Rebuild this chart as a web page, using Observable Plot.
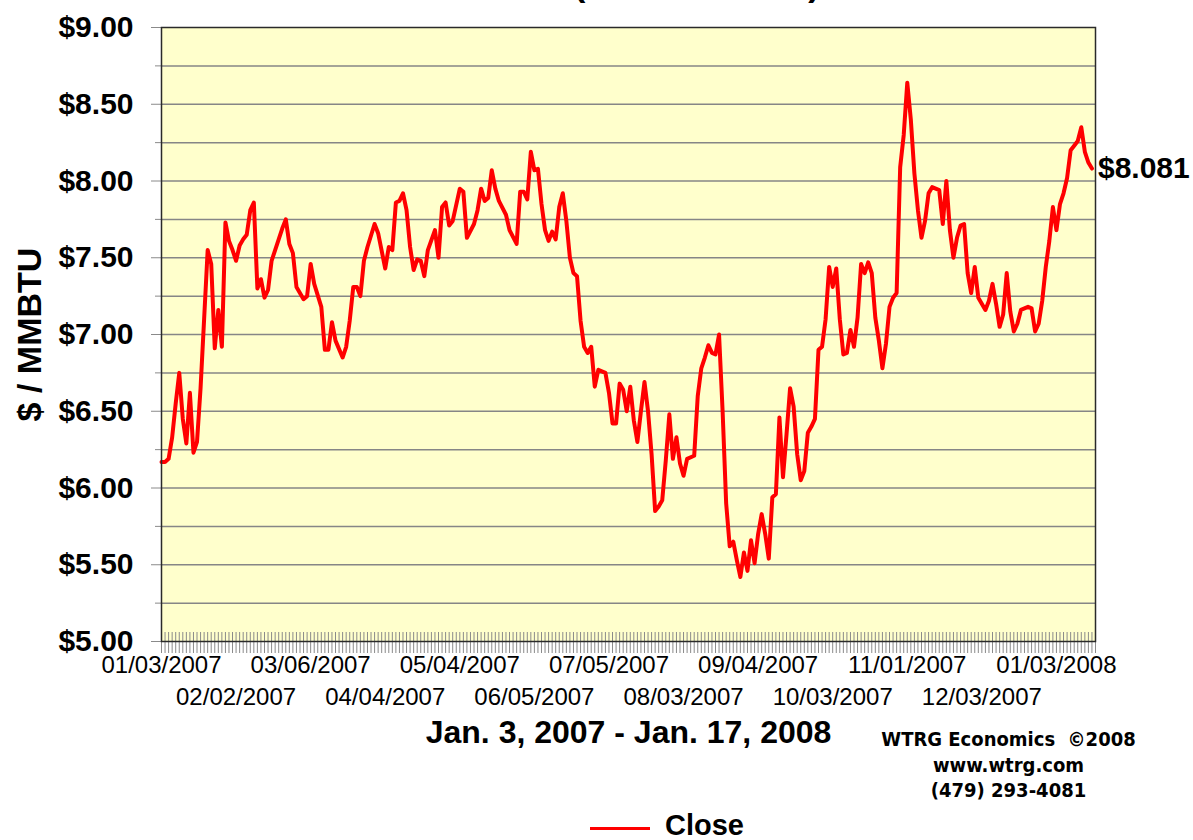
<!DOCTYPE html>
<html>
<head>
<meta charset="utf-8">
<script src="https://cdn.jsdelivr.net/npm/d3@7"></script>
<script src="https://cdn.jsdelivr.net/npm/@observablehq/plot@0.6"></script>
<style>
  html, body { margin: 0; padding: 0; background: #ffffff; overflow: hidden; }
  #wrap { position: relative; width: 1193px; height: 840px; overflow: hidden; font-family: "Liberation Sans", Arial, sans-serif; }
  #chart { position: absolute; left: 0; top: 0; }
  #title { position: absolute; top: -33px; left: 0; width: 1193px; height: 40px; font: bold 34px/34px "Liberation Sans", Arial, sans-serif; color: #000; white-space: nowrap; }
  #title .pre { position: absolute; right: 632px; top: 0; }
  #title .par { position: absolute; left: 574px; top: 0; }
  #legend { position: absolute; left: 590px; top: 811px; height: 30px; white-space: nowrap; }
  #legend .sw { position: absolute; left: 0; top: 16px; width: 60px; height: 3px; background: #ff0000; }
  #legend .lb { position: absolute; left: 75px; top: 0; font: bold 29px/29px "Liberation Sans", Arial, sans-serif; color: #000; }
</style>
</head>
<body>
<div id="wrap">
  <div id="chart"></div>
  <div id="title"><span class="pre">Natural Gas Futures</span><span class="par">(NYMEX Close)</span></div>
  <div id="legend"><div class="sw"></div><div class="lb">Close</div></div>
</div>
<script>
// Trading-day index (0 = 01/03/2007, 262 = 01/17/2008)
const dayIdx = [
  0,1,2,3,4,5,6,7,8,9,10,11,12,13,14,15,16,17,18,19,20,21,22,23,24,25,26,27,28,29,30,31,32,33,34,35,36,37,38,
  40,41,42,43,45,46,47,48,49,51,52,53,54,55,56,57,58,60,61,63,64,65,66,67,68,69,70,71,72,73,74,75,77,78,79,80,
  81,82,84,85,86,88,89,90,91,92,93,94,95,97,98,100,101,102,103,104,105,106,107,108,109,110,111,112,113,114,115,
  116,117,118,119,120,121,122,123,125,126,127,128,129,130,131,132,133,134,135,136,137,138,139,140,141,142,143,
  144,145,146,147,148,150,151,152,153,154,155,156,157,158,159,160,161,162,163,164,165,166,167,168,169,170,171,
  172,173,174,175,176,177,178,179,180,181,182,183,184,185,186,187,188,189,190,191,192,193,194,195,196,197,198,
  199,200,201,202,203,204,205,206,207,208,209,210,211,212,213,214,215,216,217,219,220,221,222,223,224,225,226,
  227,228,229,230,232,233,234,235,236,237,238,239,240,241,242,244,245,246,247,248,249,250,251,252,253,254,255,
  256,257,258,259,260,261,262
];
// Daily close, $ / MMBTU
const closes = [
  6.17,6.17,6.19,6.33,6.55,6.75,6.45,6.29,6.62,6.23,6.30,6.65,7.10,7.55,7.46,6.91,7.16,6.92,7.73,7.61,7.55,7.48,7.58,7.62,7.65,7.81,7.86,7.30,7.36,7.24,7.29,7.48,7.55,7.62,7.69,7.75,7.59,7.53,7.31,
  7.23,7.25,7.46,7.33,7.18,6.90,6.90,7.08,6.96,6.85,6.92,7.09,7.31,7.31,7.25,7.48,7.57,7.72,7.66,7.43,7.57,7.55,7.86,7.87,7.92,7.81,7.57,7.42,7.49,7.48,7.38,7.55,7.68,7.50,7.83,7.86,
  7.71,7.74,7.95,7.93,7.63,7.72,7.81,7.95,7.87,7.89,8.07,7.95,7.87,7.78,7.68,7.59,7.93,7.93,7.88,8.19,8.07,8.08,7.85,7.68,7.61,7.67,7.62,7.83,7.92,7.74,7.50,
  7.40,7.38,7.09,6.92,6.88,6.92,6.66,6.77,6.75,6.62,6.42,6.42,6.68,6.64,6.50,6.66,6.44,6.30,6.50,6.69,6.50,6.22,5.85,5.88,5.92,6.18,6.48,
  6.19,6.33,6.16,6.08,6.19,6.21,6.60,6.78,6.85,6.93,6.88,6.87,7.00,6.50,5.90,5.62,5.65,5.53,5.42,5.58,5.46,5.66,5.51,5.70,5.83,5.70,5.54,
  5.94,5.96,6.46,6.07,6.35,6.65,6.53,6.22,6.05,6.11,6.36,6.40,6.45,6.90,6.92,7.10,7.44,7.31,7.43,7.10,6.87,6.88,7.03,6.92,7.11,7.46,7.40,
  7.47,7.40,7.11,6.96,6.78,6.94,7.18,7.24,7.27,8.09,8.30,8.64,8.40,8.05,7.81,7.63,7.74,7.92,7.96,7.94,7.72,8.00,7.68,7.50,7.63,7.71,7.72,
  7.40,7.27,7.44,7.24,7.16,7.22,7.33,7.20,7.05,7.13,7.40,7.15,7.02,7.07,7.16,7.18,7.17,7.02,7.07,7.22,7.44,7.61,7.83,7.68,7.85,7.92,8.02,
  8.20,8.23,8.26,8.35,8.19,8.12,8.081
];
// Category-axis tick labels (every 21 trading days)
const tickIdx = [0,21,42,63,84,105,126,147,168,189,210,231,252];
const tickLabels = ["01/03/2007","02/02/2007","03/06/2007","04/04/2007","05/04/2007","06/05/2007","07/05/2007",
                    "08/03/2007","09/04/2007","10/03/2007","11/01/2007","12/03/2007","01/03/2008"];
const yMajor = [5,5.5,6,6.5,7,7.5,8,8.5,9];
const yMinor = [5.25,5.75,6.25,6.75,7.25,7.75,8.25,8.75];
const yGrid = [5.25,5.5,5.75,6,6.25,6.5,6.75,7,7.25,7.5,7.75,8,8.25,8.5,8.75];
const nCategories = 263;

const data = dayIdx.map((d, k) => ({i: d, close: closes[k]}));
const last = data[data.length - 1];
const allIdx = d3.range(0, nCategories + 1);
const labelOf = new Map(tickIdx.map((t, k) => [t, tickLabels[k]]));
const rowA = tickIdx.filter((t, k) => k % 2 === 0);
const rowB = tickIdx.filter((t, k) => k % 2 === 1);
const narrow = "'Liberation Sans Narrow', 'Arial Narrow', 'DejaVu Sans Condensed', sans-serif";

const chart = Plot.plot({
  width: 1193,
  height: 840,
  marginLeft: 161,
  marginRight: 98,
  marginTop: 27,
  marginBottom: 199,
  style: {fontFamily: "'Liberation Sans', Arial, sans-serif", background: "transparent", color: "#000"},
  x: {domain: [0, nCategories]},
  y: {domain: [5, 9]},
  marks: [
    Plot.frame({fill: "#FFFFCC", stroke: null}),
    Plot.gridY(yGrid, {stroke: "#868686", strokeOpacity: 1, strokeWidth: 1.5}),
    Plot.tickX(allIdx, {x: d => d, stroke: "#8a8a8a", strokeWidth: 1, insetTop: 605}),
    Plot.axisX({ticks: allIdx, tickSize: 12, tickFormat: () => "", stroke: "#8a8a8a", label: null}),
    Plot.axisX({ticks: rowA, tickSize: 0, tickPadding: 14, tickFormat: t => labelOf.get(t), fontSize: 24, label: null}),
    Plot.axisX({ticks: rowB, tickSize: 0, tickPadding: 46, tickFormat: t => labelOf.get(t), fontSize: 24, label: null}),
    Plot.axisY({ticks: yMajor, tickSize: 10, tickPadding: 18, tickFormat: d => "$" + d.toFixed(2),
                fontSize: 30, fontWeight: "bold", stroke: "#8a8a8a", label: null}),
    Plot.axisY({ticks: yMinor, tickSize: 6, tickFormat: () => "", stroke: "#8a8a8a", label: null}),
    Plot.line(data, {x: "i", y: "close", stroke: "#ff0000", strokeWidth: 4}),
    Plot.frame({stroke: "#2a2a2a", strokeWidth: 1.5}),
    Plot.text([last], {x: "i", y: "close", text: d => "$" + d.close.toFixed(3), textAnchor: "start", dx: 6,
                       fontSize: 30, fontWeight: "bold"}),
    Plot.text(["$ / MMBTU"], {frameAnchor: "left", dx: -131, rotate: -90, textAnchor: "middle", lineAnchor: "middle",
                              fontSize: 34, fontWeight: "bold"}),
    Plot.text(["Jan. 3, 2007 - Jan. 17, 2008"], {frameAnchor: "bottom", dy: 91, lineAnchor: "middle", fontSize: 32, fontWeight: "bold"}),
    Plot.text(["WTRG Economics\u00a0 \u00a92008"], {frameAnchor: "bottom", dx: 380, dy: 98, lineAnchor: "middle", fontSize: 20, fontWeight: "bold", fontFamily: narrow}),
    Plot.text(["www.wtrg.com"], {frameAnchor: "bottom", dx: 380, dy: 124, lineAnchor: "middle", fontSize: 20, fontWeight: "bold", fontFamily: narrow}),
    Plot.text(["(479) 293-4081"], {frameAnchor: "bottom", dx: 380, dy: 149, lineAnchor: "middle", fontSize: 20, fontWeight: "bold", fontFamily: narrow})
  ]
});
document.getElementById("chart").appendChild(chart);
</script>
</body>
</html>
